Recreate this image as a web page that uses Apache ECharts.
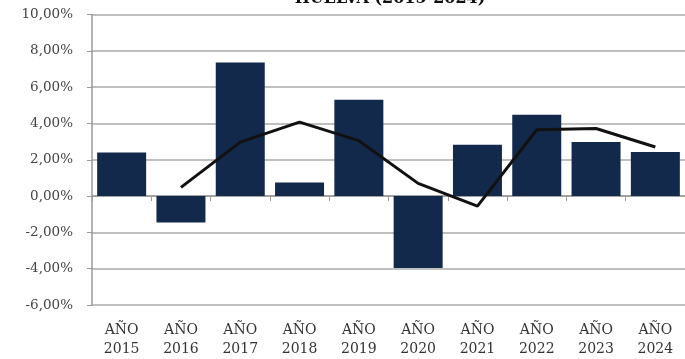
<!DOCTYPE html>
<html>
<head>
<meta charset="utf-8">
<script src="https://cdn.jsdelivr.net/npm/echarts@6/dist/echarts.min.js"></script>
<style>html,body{margin:0;padding:0;background:#fff}#c{width:685px;height:359px}</style>
</head>
<body>
<div id="c"></div>
<script>
var categories = ['AÑO\n2015','AÑO\n2016','AÑO\n2017','AÑO\n2018','AÑO\n2019','AÑO\n2020','AÑO\n2021','AÑO\n2022','AÑO\n2023','AÑO\n2024'];
var barValues = [2.40, -1.46, 7.36, 0.75, 5.30, -3.96, 2.83, 4.48, 2.98, 2.43];
var lineValues = [null, 0.48, 2.97, 4.07, 3.05, 0.70, -0.55, 3.65, 3.72, 2.70];
var titleText = 'HUELVA (2015-2024)';

var chart = echarts.init(document.getElementById('c'));
var serif = 'DejaVu Serif';
chart.setOption({
  animation: false,
  backgroundColor: '#fff',
  title: {
    text: titleText,
    left: 385, textAlign: 'center',
    top: -14,
    textStyle: {fontFamily: serif, fontWeight: 'bold', fontSize: 16, color: '#111'}
  },
  grid: {left: 92, top: 14.5, width: 602, bottom: 54, containLabel: false},
  xAxis: [{
    type: 'category', data: categories,
    axisLine: {onZero: true, lineStyle: {color: '#999', width: 1.5}},
    axisTick: {show: true, length: 5, lineStyle: {color: '#999'}},
    axisLabel: {show: false},
    splitLine: {show: false}
  }, {
    type: 'category', data: categories, position: 'bottom',
    axisLine: {show: false, onZero: false},
    axisTick: {show: false},
    axisLabel: {fontFamily: serif, fontSize: 14, color: '#333', lineHeight: 19, margin: 16, interval: 0}
  }],
  yAxis: {
    type: 'value', min: -6, max: 10, interval: 2,
    axisLine: {show: true, lineStyle: {color: '#999', width: 1.5}},
    axisTick: {show: true, length: 5, lineStyle: {color: '#999'}},
    axisLabel: {fontFamily: serif, fontSize: 13.5, color: '#444', margin: 19,
      formatter: function (v) { return v.toFixed(2).replace('.', ',') + '%'; }},
    splitLine: {lineStyle: {color: '#aaa', width: 1.5}}
  },
  series: [{
    type: 'bar', data: barValues, xAxisIndex: 0, barWidth: 49,
    itemStyle: {color: '#13294b'}
  }, {
    type: 'line', data: lineValues, xAxisIndex: 0, symbol: 'none',
    lineStyle: {color: '#111', width: 3}, z: 5
  }]
});
</script>
</body>
</html>
